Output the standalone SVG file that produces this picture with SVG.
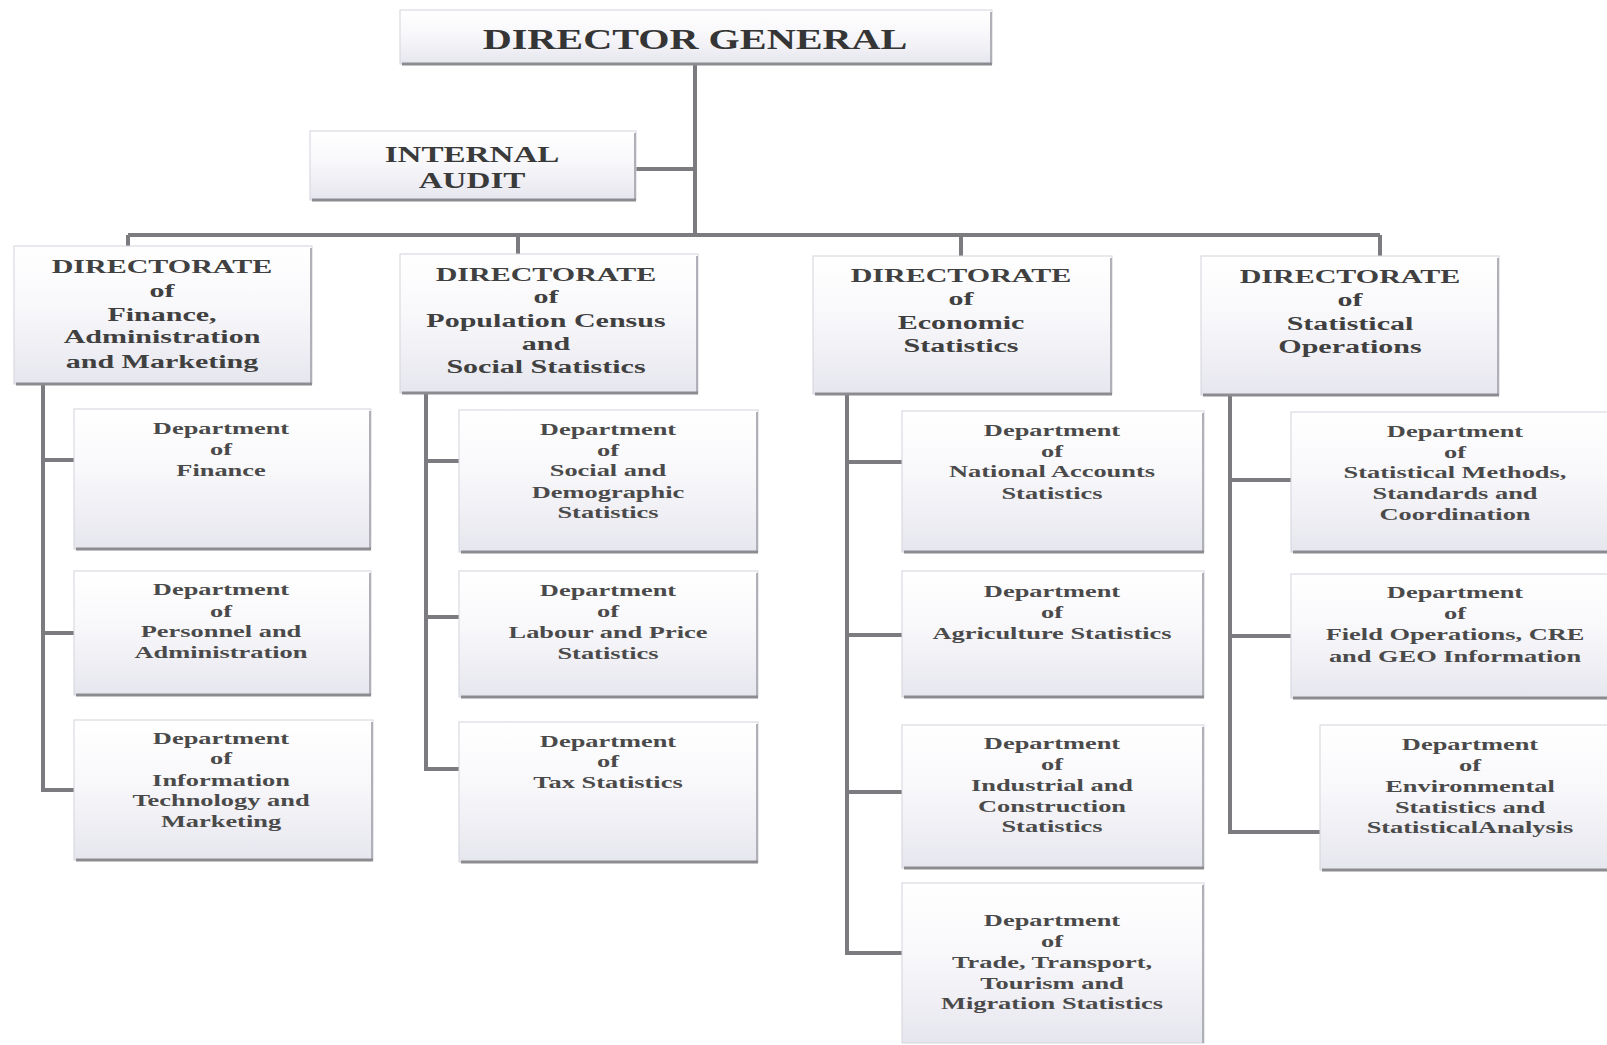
<svg xmlns="http://www.w3.org/2000/svg" width="1607" height="1045" viewBox="0 0 1607 1045">
<defs>
<linearGradient id="g" x1="0" y1="0" x2="0" y2="1">
<stop offset="0" stop-color="#ffffff"/>
<stop offset="0.45" stop-color="#f8f8fb"/>
<stop offset="1" stop-color="#e6e6ee"/>
</linearGradient>
<style>
.box{fill:url(#g);stroke:#d4d4dc;stroke-width:1}
.sh{fill:none;stroke:#8c8c90;stroke-width:3}
.shr{fill:none;stroke:#b0b0b8;stroke-width:2}
.ln{fill:none;stroke:#7c7c80;stroke-width:4}
text{font-family:"Liberation Serif","Times New Roman",serif;font-weight:bold;text-anchor:middle}
.dg{font-size:30px;fill:#353535}
.ia{font-size:24px;fill:#3a3a3a}
.dr{font-size:19px;fill:#404040}
.dp{font-size:16.5px;fill:#4a4a4a}
</style>
</defs>
<rect width="1607" height="1045" fill="#ffffff"/>

<g id="connectors">
<path class="ln" d="M695 65V235"/>
<path class="ln" d="M636 169H695"/>
<path class="ln" d="M128 235H1380"/>
<path class="ln" d="M128 235V246M518 235V254M961 235V256M1380 235V256"/>
<path class="ln" d="M43 385V790H74M43 460H74M43 633H74"/>
<path class="ln" d="M426 394V769H459M426 461H459M426 617H459"/>
<path class="ln" d="M847 395V953H902M847 462H902M847 635H902M847 792H902"/>
<path class="ln" d="M1230 396V832H1320M1230 480H1291M1230 636H1291"/>
</g>

<g id="director-general">
<rect class="box" x="400" y="10" width="592" height="54"/>
<path class="shr" d="M991 12V64"/><path class="sh" d="M402 64H992"/>
<g transform="matrix(1.34 0 0 1 695 0)"><text class="dg" x="0" y="49">DIRECTOR GENERAL</text></g>
</g>

<g id="internal-audit">
<rect class="box" x="310" y="131" width="326" height="69"/>
<path class="shr" d="M635 133V200"/><path class="sh" d="M312 200H636"/>
<g transform="matrix(1.38 0 0 1 472 0)"><text class="ia" x="0" y="162">INTERNAL</text><text class="ia" x="0" y="188">AUDIT</text></g>
</g>

<g id="dir-finance">
<rect class="box" x="14" y="246" width="298" height="138"/>
<path class="shr" d="M311 248V384"/><path class="sh" d="M16 384H312"/>
<g transform="matrix(1.58 0 0 1 162 0)"><text class="dr" x="0" y="273">DIRECTORATE</text><text class="dr" x="0" y="297">of</text><text class="dr" x="0" y="321">Finance,</text><text class="dr" x="0" y="343">Administration</text><text class="dr" x="0" y="368">and Marketing</text></g>
</g>

<g id="dir-population">
<rect class="box" x="400" y="254" width="298" height="139"/>
<path class="shr" d="M697 256V393"/><path class="sh" d="M402 393H698"/>
<g transform="matrix(1.58 0 0 1 546 0)"><text class="dr" x="0" y="281">DIRECTORATE</text><text class="dr" x="0" y="303">of</text><text class="dr" x="0" y="327">Population Census</text><text class="dr" x="0" y="350">and</text><text class="dr" x="0" y="373">Social Statistics</text></g>
</g>

<g id="dir-economic">
<rect class="box" x="813" y="256" width="299" height="138"/>
<path class="shr" d="M1111 258V394"/><path class="sh" d="M815 394H1112"/>
<g transform="matrix(1.58 0 0 1 961 0)"><text class="dr" x="0" y="282">DIRECTORATE</text><text class="dr" x="0" y="305">of</text><text class="dr" x="0" y="329">Economic</text><text class="dr" x="0" y="352">Statistics</text></g>
</g>

<g id="dir-operations">
<rect class="box" x="1201" y="256" width="298" height="139"/>
<path class="shr" d="M1498 258V395"/><path class="sh" d="M1203 395H1499"/>
<g transform="matrix(1.58 0 0 1 1350 0)"><text class="dr" x="0" y="283">DIRECTORATE</text><text class="dr" x="0" y="306">of</text><text class="dr" x="0" y="330">Statistical</text><text class="dr" x="0" y="353">Operations</text></g>
</g>

<g id="dept-finance">
<rect class="box" x="74" y="409" width="297" height="140"/>
<path class="shr" d="M370 411V549"/><path class="sh" d="M76 549H371"/>
<g transform="matrix(1.6 0 0 1 221 0)"><text class="dp" x="0" y="434">Department</text><text class="dp" x="0" y="455">of</text><text class="dp" x="0" y="476">Finance</text></g>
</g>

<g id="dept-personnel">
<rect class="box" x="74" y="571" width="297" height="124"/>
<path class="shr" d="M370 573V695"/><path class="sh" d="M76 695H371"/>
<g transform="matrix(1.6 0 0 1 221 0)"><text class="dp" x="0" y="595">Department</text><text class="dp" x="0" y="617">of</text><text class="dp" x="0" y="637">Personnel and</text><text class="dp" x="0" y="658">Administration</text></g>
</g>

<g id="dept-it">
<rect class="box" x="74" y="720" width="299" height="140"/>
<path class="shr" d="M372 722V860"/><path class="sh" d="M76 860H373"/>
<g transform="matrix(1.6 0 0 1 221 0)"><text class="dp" x="0" y="744">Department</text><text class="dp" x="0" y="764">of</text><text class="dp" x="0" y="786">Information</text><text class="dp" x="0" y="806">Technology and</text><text class="dp" x="0" y="827">Marketing</text></g>
</g>

<g id="dept-social">
<rect class="box" x="459" y="410" width="299" height="142"/>
<path class="shr" d="M757 412V552"/><path class="sh" d="M461 552H758"/>
<g transform="matrix(1.6 0 0 1 608 0)"><text class="dp" x="0" y="435">Department</text><text class="dp" x="0" y="456">of</text><text class="dp" x="0" y="476">Social and</text><text class="dp" x="0" y="498">Demographic</text><text class="dp" x="0" y="518">Statistics</text></g>
</g>

<g id="dept-labour">
<rect class="box" x="459" y="571" width="299" height="126"/>
<path class="shr" d="M757 573V697"/><path class="sh" d="M461 697H758"/>
<g transform="matrix(1.6 0 0 1 608 0)"><text class="dp" x="0" y="596">Department</text><text class="dp" x="0" y="617">of</text><text class="dp" x="0" y="638">Labour and Price</text><text class="dp" x="0" y="659">Statistics</text></g>
</g>

<g id="dept-tax">
<rect class="box" x="459" y="722" width="299" height="140"/>
<path class="shr" d="M757 724V862"/><path class="sh" d="M461 862H758"/>
<g transform="matrix(1.6 0 0 1 608 0)"><text class="dp" x="0" y="747">Department</text><text class="dp" x="0" y="767">of</text><text class="dp" x="0" y="788">Tax Statistics</text></g>
</g>

<g id="dept-national-accounts">
<rect class="box" x="902" y="411" width="302" height="141"/>
<path class="shr" d="M1203 413V552"/><path class="sh" d="M904 552H1204"/>
<g transform="matrix(1.6 0 0 1 1052 0)"><text class="dp" x="0" y="436">Department</text><text class="dp" x="0" y="457">of</text><text class="dp" x="0" y="477">National Accounts</text><text class="dp" x="0" y="499">Statistics</text></g>
</g>

<g id="dept-agriculture">
<rect class="box" x="902" y="571" width="302" height="126"/>
<path class="shr" d="M1203 573V697"/><path class="sh" d="M904 697H1204"/>
<g transform="matrix(1.6 0 0 1 1052 0)"><text class="dp" x="0" y="597">Department</text><text class="dp" x="0" y="618">of</text><text class="dp" x="0" y="639">Agriculture Statistics</text></g>
</g>

<g id="dept-industrial">
<rect class="box" x="902" y="725" width="302" height="143"/>
<path class="shr" d="M1203 727V868"/><path class="sh" d="M904 868H1204"/>
<g transform="matrix(1.6 0 0 1 1052 0)"><text class="dp" x="0" y="749">Department</text><text class="dp" x="0" y="770">of</text><text class="dp" x="0" y="791">Industrial and</text><text class="dp" x="0" y="812">Construction</text><text class="dp" x="0" y="832">Statistics</text></g>
</g>

<g id="dept-trade">
<rect class="box" x="902" y="883" width="302" height="160"/>
<path class="shr" d="M1203 885V1043"/>
<g transform="matrix(1.6 0 0 1 1052 0)"><text class="dp" x="0" y="926">Department</text><text class="dp" x="0" y="947">of</text><text class="dp" x="0" y="968">Trade, Transport,</text><text class="dp" x="0" y="989">Tourism and</text><text class="dp" x="0" y="1009">Migration Statistics</text></g>
</g>

<g id="dept-methods">
<rect class="box" x="1291" y="412" width="320" height="140"/>
<path class="sh" d="M1293 552H1607"/>
<g transform="matrix(1.6 0 0 1 1455 0)"><text class="dp" x="0" y="437">Department</text><text class="dp" x="0" y="458">of</text><text class="dp" x="0" y="478">Statistical Methods,</text><text class="dp" x="0" y="499">Standards and</text><text class="dp" x="0" y="520">Coordination</text></g>
</g>

<g id="dept-field">
<rect class="box" x="1291" y="574" width="320" height="124"/>
<path class="sh" d="M1293 698H1607"/>
<g transform="matrix(1.6 0 0 1 1455 0)"><text class="dp" x="0" y="598">Department</text><text class="dp" x="0" y="619">of</text><text class="dp" x="0" y="640">Field Operations, CRE</text><text class="dp" x="0" y="662">and GEO Information</text></g>
</g>

<g id="dept-environment">
<rect class="box" x="1320" y="725" width="291" height="145"/>
<path class="sh" d="M1322 870H1607"/>
<g transform="matrix(1.6 0 0 1 1470 0)"><text class="dp" x="0" y="750">Department</text><text class="dp" x="0" y="771">of</text><text class="dp" x="0" y="792">Environmental</text><text class="dp" x="0" y="813">Statistics and</text><text class="dp" x="0" y="833">StatisticalAnalysis</text></g>
</g>
</svg>
